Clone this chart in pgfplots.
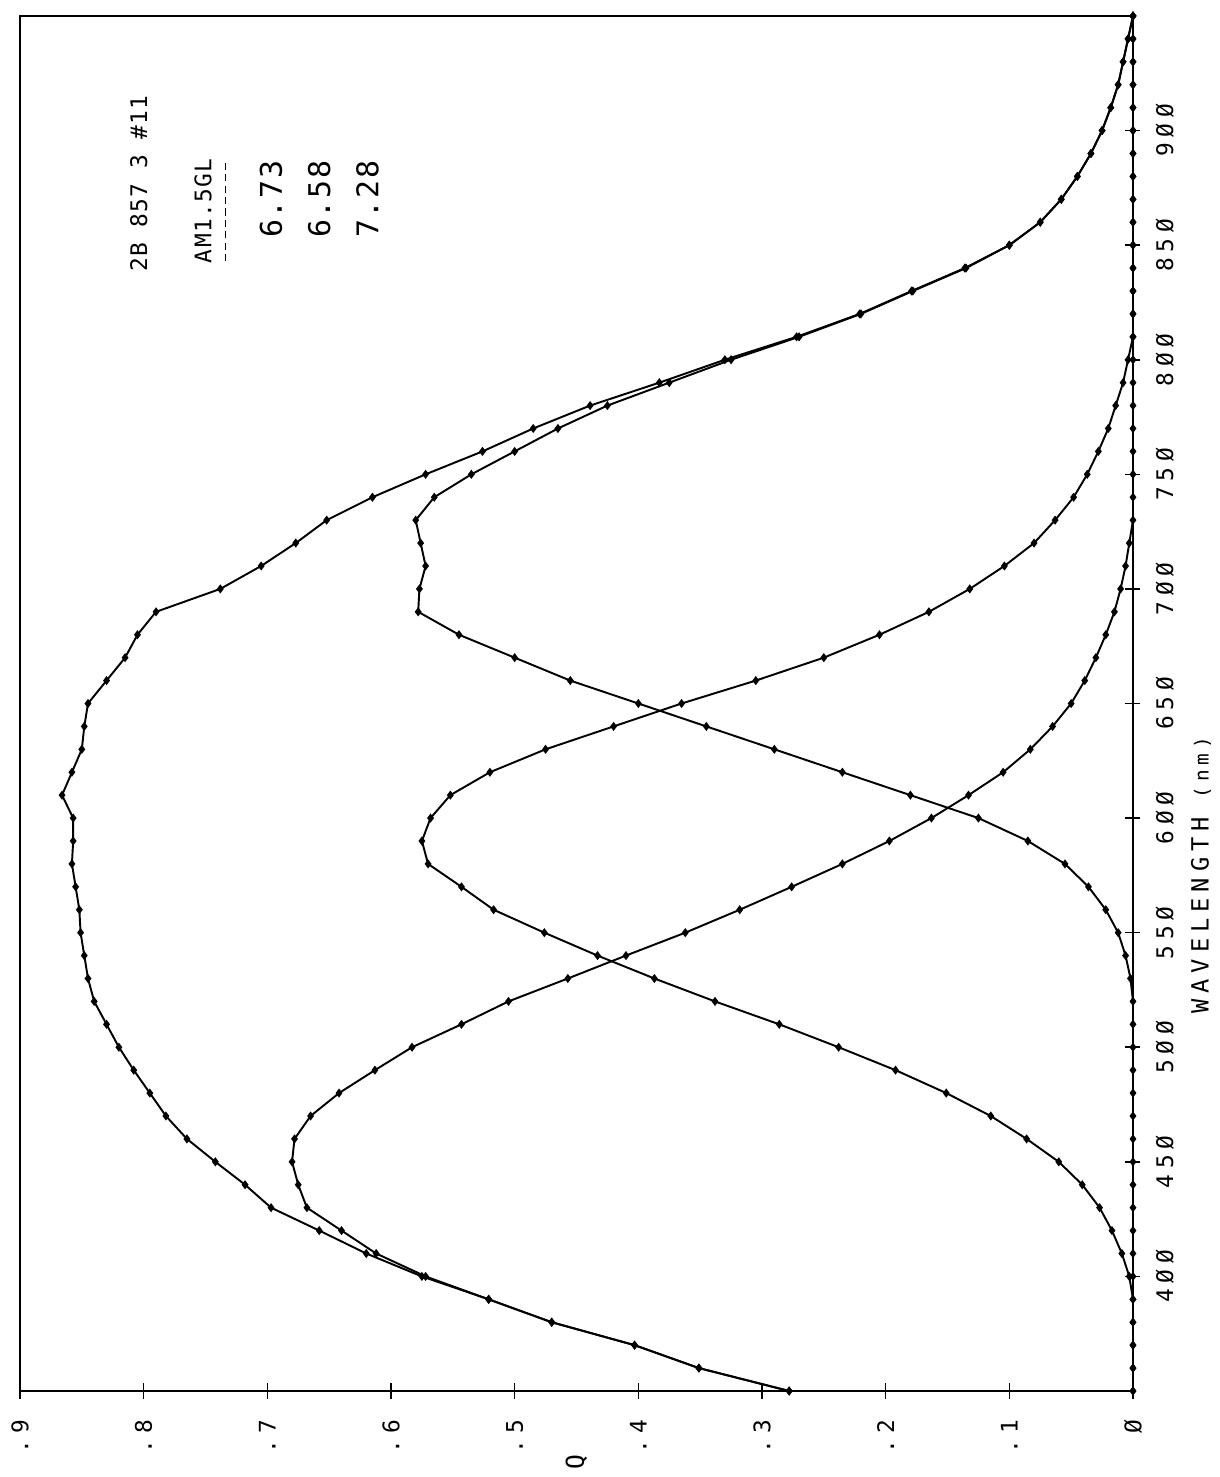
\documentclass[border=0pt]{standalone}
\usepackage{fontspec}
\usepackage{pgfplots}
\usepackage{pgfplotstable}
\pgfplotsset{compat=1.18}
\setmainfont{DejaVu Sans Mono}
\newfontfamily\plotfont{DejaVu Sans Mono}[LetterSpace=25]
\newfontfamily\notefont{DejaVu Sans Mono}[LetterSpace=6]

% Quantum efficiency of the three junctions and their sum, 10 nm steps
% columns: wavelength (nm), blue, green, red, total
\pgfplotstableread{
lam   B     G     R     S
350 0.278 0.000 0.000 0.278
360 0.351 0.000 0.000 0.351
370 0.403 0.000 0.000 0.403
380 0.470 0.000 0.000 0.470
390 0.521 0.000 0.000 0.521
400 0.572 0.003 0.000 0.575
410 0.612 0.009 0.000 0.620
420 0.640 0.017 0.000 0.658
430 0.668 0.027 0.000 0.697
440 0.675 0.041 0.000 0.718
450 0.680 0.060 0.000 0.742
460 0.678 0.086 0.000 0.765
470 0.665 0.115 0.000 0.782
480 0.642 0.151 0.000 0.795
490 0.613 0.192 0.000 0.808
500 0.583 0.238 0.000 0.820
510 0.543 0.286 0.000 0.830
520 0.505 0.338 0.000 0.840
530 0.457 0.387 0.002 0.845
540 0.410 0.433 0.006 0.848
550 0.362 0.476 0.012 0.851
560 0.318 0.517 0.022 0.852
570 0.276 0.543 0.036 0.855
580 0.235 0.570 0.055 0.858
590 0.197 0.575 0.085 0.857
600 0.163 0.568 0.125 0.857
610 0.133 0.552 0.180 0.866
620 0.105 0.520 0.235 0.858
630 0.083 0.475 0.290 0.850
640 0.065 0.420 0.345 0.848
650 0.050 0.365 0.400 0.845
660 0.039 0.305 0.455 0.830
670 0.030 0.250 0.500 0.815
680 0.022 0.205 0.545 0.805
690 0.015 0.165 0.578 0.790
700 0.010 0.132 0.577 0.738
710 0.006 0.104 0.572 0.705
720 0.003 0.080 0.576 0.677
730 0.000 0.063 0.580 0.652
740 0.000 0.048 0.565 0.615
750 0.000 0.037 0.535 0.572
760 0.000 0.028 0.500 0.526
770 0.000 0.020 0.465 0.485
780 0.000 0.014 0.425 0.439
790 0.000 0.008 0.375 0.383
800 0.000 0.004 0.325 0.330
810 0.000 0.000 0.270 0.272
820 0.000 0.000 0.220 0.221
830 0.000 0.000 0.178 0.179
840 0.000 0.000 0.135 0.136
850 0.000 0.000 0.100 0.100
860 0.000 0.000 0.075 0.075
870 0.000 0.000 0.058 0.058
880 0.000 0.000 0.045 0.045
890 0.000 0.000 0.034 0.034
900 0.000 0.000 0.025 0.025
910 0.000 0.000 0.018 0.018
920 0.000 0.000 0.012 0.012
930 0.000 0.000 0.008 0.008
940 0.000 0.000 0.004 0.004
950 0.000 0.000 0.000 0.000
}\qe

\begin{document}
\begin{tikzpicture}
% page frame
\path (-0.4cm,-1.72cm) rectangle (23.98cm,27.82cm);
\begin{axis}[
  at={(0,0)}, anchor=south west,
  scale only axis,
  width=22.26cm, height=27.5cm,
  x dir=reverse,
  xmin=0, xmax=0.9, ymin=350, ymax=950,
  clip=false,
  axis line style={line width=1.1pt},
  every tick/.style={black, line width=0.9pt},
  tick align=center,
  major tick length=0.3cm,
  xtick={0,0.1,0.2,0.3,0.4,0.5,0.6,0.7,0.8,0.9},
  xticklabels={Ø,.1,.2,.3,.4,.5,.6,.7,.8,.9},
  ytick={400,450,500,550,600,650,700,750,800,850,900},
  yticklabels={4ØØ,45Ø,5ØØ,55Ø,6ØØ,65Ø,7ØØ,75Ø,8ØØ,85Ø,9ØØ},
  xtick pos=bottom, ytick pos=right,
  xticklabel style={rotate=90, anchor=east, inner sep=0pt,
    font=\plotfont\fontsize{13pt}{15pt}\selectfont},
  yticklabel style={rotate=90, anchor=north, inner sep=0pt,
    font=\plotfont\fontsize{13pt}{15pt}\selectfont},
  xticklabel shift=0.42cm,
  yticklabel shift=0.3cm,
  qe/.style={black, line width=1.1pt, mark=diamond*, mark size=1.7pt,
    mark options={solid, fill=black}},
]
\addplot[qe] table[x=S, y=lam] {\qe};
\addplot[qe] table[x=B, y=lam] {\qe};
\addplot[qe] table[x=G, y=lam] {\qe};
\addplot[qe] table[x=R, y=lam] {\qe};

% axis titles
\node[rotate=90, font=\plotfont\fontsize{14pt}{16pt}\selectfont]
  at ([yshift=-1.42cm]rel axis cs:0.5,0) {Q};
\node[rotate=90, font=\plotfont\fontsize{13.5pt}{16pt}\selectfont]
  at ([xshift=1.36cm]axis cs:0,575)
  {WAVELENGTH\hspace{0.8em}{\fontsize{11pt}{13pt}\selectfont(nm)}};

% sample notes
\node[rotate=90, font=\notefont\fontsize{13pt}{15pt}\selectfont]
  at (axis cs:0.804,877) {2B 857 3 \#11};
\node[rotate=90, font=\notefont\fontsize{13pt}{15pt}\selectfont]
  at (axis cs:0.752,865) {AM1.5GL};
\draw[line width=0.8pt, dash pattern=on 4pt off 2.5pt]
  (axis cs:0.734,843) -- (axis cs:0.734,887);
\node[rotate=90, font=\notefont\fontsize{17pt}{19pt}\selectfont]
  at (axis cs:0.697,870) {6.73};
\node[rotate=90, font=\notefont\fontsize{17pt}{19pt}\selectfont]
  at (axis cs:0.658,870) {6.58};
\node[rotate=90, font=\notefont\fontsize{17pt}{19pt}\selectfont]
  at (axis cs:0.619,870) {7.28};
\end{axis}
\end{tikzpicture}
\end{document}
